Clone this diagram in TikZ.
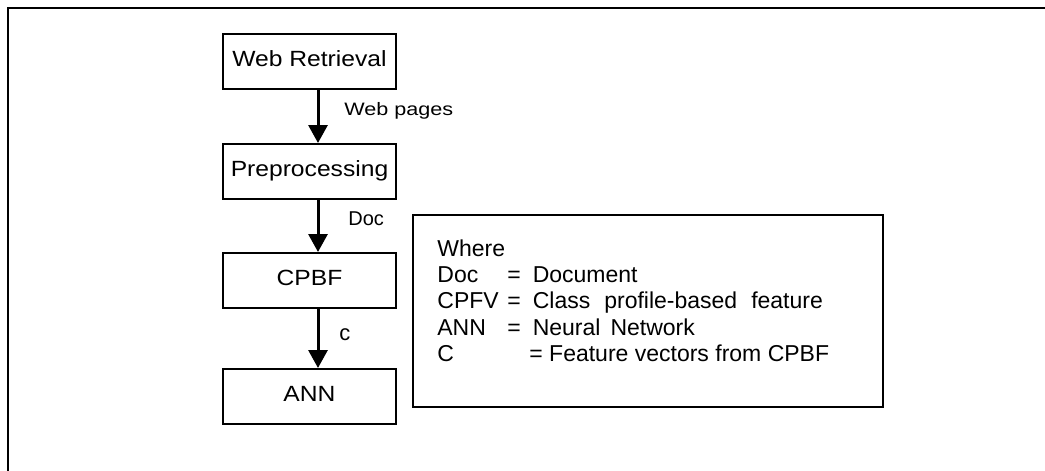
\documentclass[tikz,border=0pt]{standalone}
\usepackage{fontspec}
\setmainfont{Liberation Sans}
\newfontfamily\boxfont[FakeStretch=1.12]{Liberation Sans}
\newfontfamily\labelfont[FakeStretch=1.2]{Liberation Sans}
\usetikzlibrary{arrows.meta}

\begin{document}
\begin{tikzpicture}[
    x=0.5pt, y=-0.5pt,
    >={Triangle[length=9pt,width=9.5pt]},
    stage/.style={draw, line width=1pt, minimum width=86.5pt,
        minimum height=27.5pt, inner sep=0pt, text height=8pt,
        text depth=3pt, font=\boxfont\fontsize{11}{13}\selectfont},
    flow/.style={->, line width=1.5pt},
    flowlabel/.style={anchor=base west, inner sep=0pt},
    legtext/.style={anchor=base west, inner sep=0pt,
        font=\fontsize{11.5}{13}\selectfont},
    ]

    \def\arrowshift{4.25pt}

    \useasboundingbox (0,0) rectangle (1045,471);

    % Frame
    \draw[line width=1.2pt] (8,471) -- (8,8) -- (1045,8);

    % Stages
    \node[stage] (wr)   at (309.5,61.5)  {Web Retrieval};
    \node[stage] (pre)  at (309.5,171.5) {Preprocessing};
    \node[stage] (cpbf) at (309.5,280.5) {CPBF};
    \node[stage] (ann)  at (309.5,396.5) {ANN};

    % Flow
    \draw[flow] ([xshift=\arrowshift]wr.south) -- ([xshift=\arrowshift]pre.north);
    \draw[flow] ([xshift=\arrowshift]pre.south) -- ([xshift=\arrowshift]cpbf.north);
    \draw[flow] ([xshift=\arrowshift]cpbf.south) -- ([xshift=\arrowshift]ann.north);

    % Flow labels
    \node[flowlabel, font=\labelfont\fontsize{9}{11}\selectfont] (lbweb) at (344,115) {Web pages};
    \node[flowlabel, font=\fontsize{10}{12}\selectfont] (lbdoc) at (348,225) {Doc};
    \node[flowlabel, font=\fontsize{11}{13}\selectfont] (lbc) at (339,340) {c};

    % Legend
    \node[draw, line width=1pt, minimum width=235pt, minimum height=96pt,
          inner sep=0pt] (legend) at (648,311) {};
    \node[legtext] (lwhere) at (437,256) {Where};
    \node[legtext] (ldoc)   at (437,282) {\makebox[35pt][l]{Doc}=\hspace{6pt}Document};
    \node[legtext] (lcpfv)  at (437,308) {\makebox[35pt][l]{CPFV}=\hspace{6pt}Class\hspace{7pt}profile-based\hspace{7pt}feature};
    \node[legtext] (lann)   at (437,335) {\makebox[35pt][l]{ANN}=\hspace{6pt}Neural\hspace{5pt}Network};
    \node[legtext] (lc)     at (437,361) {\makebox[46pt][l]{C}=\ Feature vectors from CPBF};

\end{tikzpicture}
\end{document}
